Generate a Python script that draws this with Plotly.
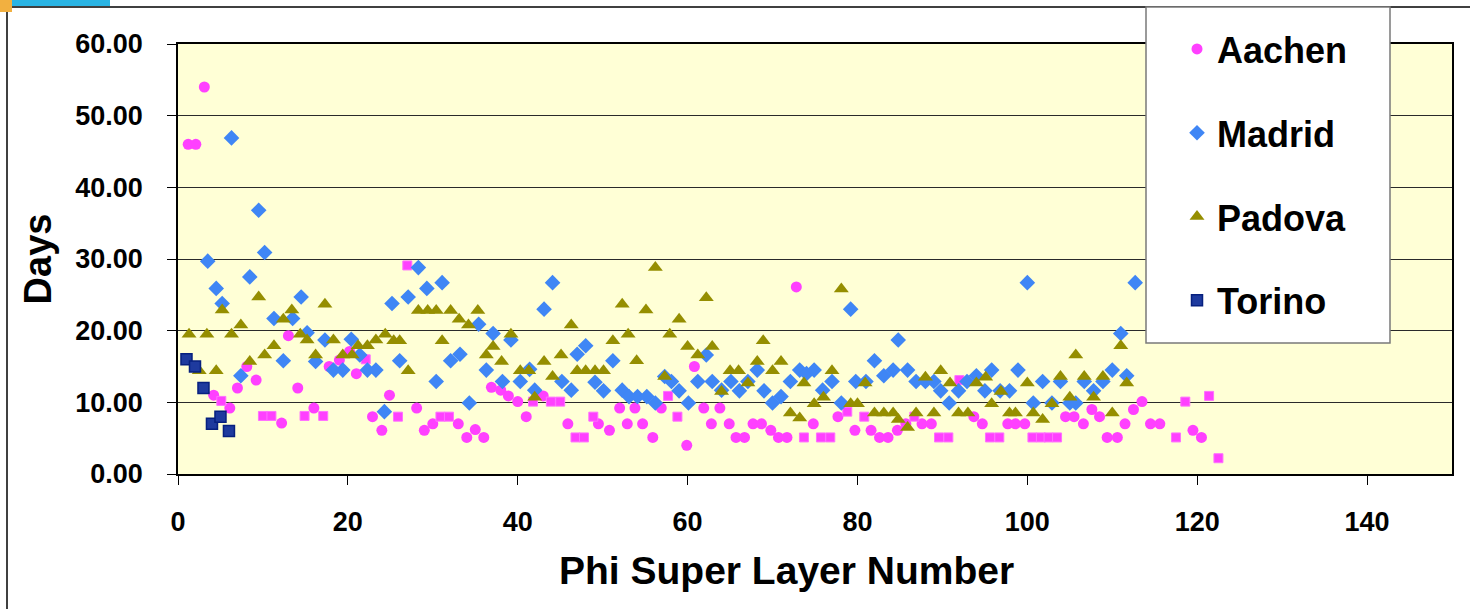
import plotly.graph_objects as go

# ---------------- data ----------------
aachen_x = [1.2, 2.1, 3.1, 13.0, 8.1, 9.2, 7.0, 4.2, 6.1, 12.2, 14.1, 16.0, 17.8, 19.0, 20.2, 21.0, 22.9, 24.0, 24.9,
            28.1, 29.0, 30.0, 33.0, 34.0, 35.0, 36.0, 36.9, 38.0, 38.9, 40.0, 41.0, 43.0, 45.9, 49.5,
            72.8, 60.8, 52.0, 53.8, 56.9, 50.8, 52.9, 54.7, 55.9, 59.9, 61.9, 63.8, 62.8, 64.9, 65.7, 66.7, 67.7, 68.7, 69.8, 70.7, 71.7,
            74.8, 77.7, 79.7, 81.6, 82.6, 83.6, 84.7, 85.7, 87.6, 88.7, 93.7, 94.7, 97.7, 98.6, 99.7,
            104.5, 105.5, 106.6, 107.6, 108.5, 109.4, 110.6, 111.5, 112.5, 113.5, 114.5, 115.6, 119.5, 120.5]
aachen_y = [46.0, 46.0, 54.0, 19.3, 15.0, 13.1, 12.0, 11.0, 9.2, 7.1, 12.0, 9.2, 15.0, 15.9, 17.1, 14.0, 8.0, 6.1, 11.0,
            9.2, 6.1, 7.0, 7.0, 5.1, 6.2, 5.1, 12.1, 11.7, 10.9, 10.1, 8.0, 10.9, 7.0, 7.0,
            26.1, 15.0, 9.2, 9.2, 9.2, 6.1, 7.0, 7.0, 5.1, 4.0, 9.2, 9.2, 7.0, 7.0, 5.1, 5.1, 7.0, 7.0, 6.1, 5.1, 5.1,
            7.0, 8.0, 6.1, 6.1, 5.1, 5.1, 6.1, 7.0, 7.0, 7.0, 8.0, 7.0, 7.0, 7.0, 7.0,
            8.0, 8.0, 7.0, 9.0, 8.0, 5.1, 5.1, 7.0, 9.0, 10.1, 7.0, 7.0, 6.1, 5.1]

# Aachen points drawn with a square glyph in the original
aachen_sq_x = [5.1, 10.0, 11.0, 14.9, 17.1, 22.1, 25.9, 27.0, 30.9, 31.9, 41.8, 43.9, 45.0, 46.8, 47.8, 48.9, 57.7, 58.8,
               73.7, 75.7, 76.8, 78.8, 80.8, 86.7, 89.6, 90.7, 92.0, 95.6, 96.7, 100.6, 101.6, 102.5, 103.5,
               117.5, 118.6, 121.4, 122.5]
aachen_sq_y = [10.2, 8.1, 8.1, 8.1, 8.1, 16.0, 8.0, 29.1, 8.0, 8.0, 10.1, 10.1, 10.1, 5.1, 5.1, 8.0, 10.9, 8.0,
               5.1, 5.1, 5.1, 8.7, 8.0, 8.0, 5.1, 5.1, 13.1, 5.1, 5.1, 5.1, 5.1, 5.1, 5.1,
               5.1, 10.1, 10.9, 2.2]

madrid_x = [6.3, 9.5, 10.2, 3.5, 4.5, 8.45, 5.2, 14.5, 11.3, 13.5, 15.2, 12.4, 7.4, 16.2, 17.3, 18.3, 19.4, 20.4, 21.4, 22.3, 23.3, 24.3, 25.2,
            28.3, 29.3, 31.1, 27.1, 44.1, 43.1, 35.4, 37.1, 39.2, 26.1, 32.1, 33.2, 36.3, 30.4, 38.2, 40.3, 41.4, 42.0, 45.2, 46.3, 47.0, 48.0, 49.1, 34.3,
            51.2, 50.1, 52.3, 53.1, 54.1, 55.2, 56.2, 57.3, 58.1, 59.0, 60.1, 61.2, 62.2, 62.9, 64.0, 65.1, 66.1, 67.1, 68.2, 69.0, 70.0, 71.0, 72.1, 73.2, 74.0,
            79.2, 84.8, 82.0, 74.9, 77.0, 75.9, 78.1, 79.8, 81.0, 83.1, 84.2, 85.9, 86.9, 88.0, 89.0, 89.8, 90.8, 91.9, 92.9, 94.0, 95.0, 95.8, 96.8, 97.9, 98.9,
            100.0, 112.7, 111.0, 101.8, 103.9, 106.7, 108.9, 110.0, 111.7, 107.8, 100.7, 102.9, 105.0, 105.7]
madrid_y = [46.9, 36.8, 30.9, 29.7, 25.9, 27.5, 23.8, 24.7, 21.7, 21.7, 19.7, 15.8, 13.7, 15.7, 18.7, 14.5, 14.5, 18.8, 16.6, 14.5, 14.5, 8.7, 23.8,
            28.8, 25.9, 26.7, 24.7, 26.7, 23.0, 20.9, 19.6, 18.7, 15.8, 15.8, 16.7, 14.5, 12.9, 12.9, 12.9, 14.6, 11.7, 12.9, 11.7, 16.7, 17.9, 12.8, 9.9,
            15.8, 11.6, 11.7, 10.8, 10.8, 10.8, 9.9, 13.6, 12.9, 11.6, 9.9, 12.9, 16.6, 12.9, 11.7, 12.9, 11.6, 12.9, 14.5, 11.6, 9.9, 10.8, 12.9, 14.5, 14.0,
            23.0, 18.7, 15.8, 14.5, 12.9, 11.7, 9.9, 12.9, 12.9, 13.7, 14.5, 14.5, 12.9, 12.9, 12.9, 11.6, 9.9, 11.6, 12.9, 13.7, 11.6, 14.5, 11.6, 11.6, 14.5,
            26.7, 26.7, 19.6, 12.9, 12.9, 12.9, 12.9, 14.5, 13.7, 11.6, 9.9, 9.9, 9.9, 9.9]

padova_x = [1.3, 3.4, 6.3, 5.2, 7.4, 9.5, 2.5, 4.5, 8.45, 10.2, 11.3, 12.4, 13.4, 14.4, 15.2, 16.2, 17.3, 18.3, 19.4, 20.5, 21.2, 22.3, 23.3, 24.4,
            28.3, 29.4, 30.4, 32.1, 33.1, 34.2, 35.3, 25.4, 26.1, 31.1, 27.1, 37.1, 36.3, 38.1, 39.2, 40.3, 41.3, 43.1, 44.1, 45.1, 46.3, 47.0, 48.0, 49.1, 42.0,
            56.2, 52.3, 55.1, 62.2, 59.0, 57.9, 53.0, 51.2, 60.0, 61.2, 62.9, 68.9, 54.0, 50.1, 57.3, 65.0, 66.0, 68.2, 70.0, 71.0, 67.1, 64.0, 73.7, 72.1, 73.2,
            78.1, 77.0, 80.9, 74.9, 76.0, 79.2, 80.0, 82.0, 83.1, 84.2, 84.8, 85.9, 86.9, 88.0, 89.0, 89.8, 90.9, 91.9, 93.0, 94.0, 95.1, 95.8, 96.9, 97.9, 98.6,
            111.0, 105.7, 100.0, 103.9, 106.7, 108.9, 111.7, 105.0, 102.9, 107.8, 100.7, 101.8, 110.0]
padova_y = [19.5, 19.5, 19.5, 22.9, 20.8, 24.7, 14.4, 14.4, 15.7, 16.6, 17.9, 21.6, 22.9, 19.5, 18.7, 16.6, 23.7, 18.7, 16.6, 16.6, 17.9, 17.9, 18.7, 19.5,
            22.8, 22.8, 22.8, 22.8, 21.6, 20.8, 22.8, 18.6, 18.6, 18.6, 14.4, 17.8, 16.6, 15.7, 19.5, 14.4, 14.4, 15.7, 13.6, 16.6, 20.8, 14.4, 14.4, 14.4, 10.7,
            28.8, 23.7, 22.9, 24.6, 21.6, 19.5, 19.5, 18.6, 17.8, 16.6, 17.8, 18.6, 15.8, 14.4, 13.6, 14.4, 14.4, 15.7, 14.4, 15.7, 12.7, 11.5, 12.7, 8.5, 7.8,
            25.8, 14.4, 12.7, 9.8, 10.7, 9.8, 9.8, 8.5, 8.5, 8.5, 7.6, 6.5, 8.5, 13.5, 8.5, 14.4, 12.7, 8.5, 8.5, 12.7, 13.5, 9.8, 11.5, 8.5, 8.5,
            17.9, 16.6, 12.7, 13.6, 13.6, 13.6, 12.7, 10.7, 9.8, 10.7, 8.5, 7.6, 8.5]

torino_x = [1, 2, 3, 4, 5, 6]
torino_y = [16.0, 15.0, 12.0, 7.0, 8.0, 6.0]

x_ticks = [0, 20, 40, 60, 80, 100, 120, 140]
y_ticks = [0, 10, 20, 30, 40, 50, 60]

# ---------------- styling ----------------
FONT = "Liberation Sans, Arial, sans-serif"
C_AACHEN = "#FF40FF"
C_MADRID = "#3F86F5"
C_PADOVA = "#958E00"

# pixel geometry
W, H = 1470, 609
ML, MR, MT, MB = 178, 18, 44, 135
PW, PH = W - ML - MR, H - MT - MB


def px(x):
    return (x - ML) / PW


def py(y):
    return (H - MB - y) / PH


fig = go.Figure()

fig.add_trace(go.Scatter(
    x=aachen_x, y=aachen_y, mode="markers", name="Aachen", legendgroup="a",
    marker=dict(symbol="circle", size=11, color=C_AACHEN, line=dict(width=0))))
fig.add_trace(go.Scatter(
    x=aachen_sq_x, y=aachen_sq_y, mode="markers", name="Aachen", legendgroup="a", showlegend=False,
    marker=dict(symbol="square", size=9, color=C_AACHEN, line=dict(width=1, color="#FF70FF"))))
fig.add_trace(go.Scatter(
    x=madrid_x, y=madrid_y, mode="markers", name="Madrid", legendgroup="m",
    marker=dict(symbol="diamond", size=12, color=C_MADRID, line=dict(width=0))))
fig.add_trace(go.Scatter(
    x=padova_x, y=padova_y, mode="markers", name="Padova", legendgroup="p",
    marker=dict(symbol="triangle-up", size=13, color=C_PADOVA, line=dict(width=0))))
fig.add_trace(go.Scatter(
    x=torino_x, y=torino_y, mode="markers", name="Torino", legendgroup="t",
    marker=dict(symbol="square", size=11, color="#1E3A9E", line=dict(width=1.5, color="#07207F"))))

shapes = [
    # outer chart border (left and top visible)
    dict(type="line", xref="paper", yref="paper", x0=px(7), x1=px(1475), y0=py(7), y1=py(7),
         line=dict(color="black", width=1.5), layer="above"),
    dict(type="line", xref="paper", yref="paper", x0=px(7), x1=px(7), y0=py(7), y1=py(615),
         line=dict(color="black", width=1.5), layer="above"),
    # screenshot artefacts at the top-left corner
    dict(type="rect", xref="paper", yref="paper", x0=px(0), x1=px(12), y0=py(0), y1=py(12),
         fillcolor="#F2B040", line=dict(width=0), layer="above"),
    dict(type="rect", xref="paper", yref="paper", x0=px(12), x1=px(110), y0=py(0), y1=py(6),
         fillcolor="#2AB4E4", line=dict(width=0), layer="above"),
    # legend box
    dict(type="rect", xref="paper", yref="paper", x0=px(1146), x1=px(1390), y0=py(7), y1=py(343),
         fillcolor="white", line=dict(color="#7A7A7A", width=1.5), layer="above"),
]

fig.update_layout(
    width=W, height=H,
    margin=dict(l=ML, r=MR, t=MT, b=MB),
    paper_bgcolor="white",
    plot_bgcolor="#FFFFD6",
    font=dict(family=FONT, color="black", size=26, weight="bold"),
    shapes=shapes,
    annotations=[dict(
        text="Phi Super Layer Number", xref="paper", yref="paper",
        x=px(786), y=py(570), xanchor="center", yanchor="middle", showarrow=False,
        font=dict(family=FONT, size=39, color="black", weight="bold"))],
    showlegend=True,
    legend=dict(
        x=px(1177), y=py(19), xanchor="left", yanchor="top",
        bgcolor="rgba(0,0,0,0)", borderwidth=0,
        font=dict(family=FONT, size=36, color="black", weight="bold"),
        tracegroupgap=34, traceorder="grouped", maxheight=580,
    ),
    xaxis=dict(
        range=[0, 150], tickvals=x_ticks, ticktext=[str(v) for v in x_ticks],
        showgrid=False, zeroline=False,
        showline=True, linecolor="black", linewidth=1.5, mirror=True,
        ticks="outside", ticklen=9, tickcolor="black", tickwidth=1,
        ticklabelstandoff=14,
        tickfont=dict(family=FONT, size=27, color="black", weight="bold"),
    ),
    yaxis=dict(
        range=[0, 60], tickvals=y_ticks, ticktext=[f"{v:.2f}" for v in y_ticks],
        showgrid=True, gridcolor="#2A2A2A", gridwidth=1, zeroline=False,
        showline=True, linecolor="black", linewidth=1.5, mirror=True,
        ticks="outside", ticklen=9, tickcolor="black", tickwidth=1,
        ticklabelstandoff=19,
        tickfont=dict(family=FONT, size=27, color="black", weight="bold"),
        title=dict(text="Days", standoff=12,
                   font=dict(family=FONT, size=38, color="black", weight="bold")),
    ),
)

fig.write_html("out.html", post_script="document.body.style.margin='0px';",
               config={"displayModeBar": False})
